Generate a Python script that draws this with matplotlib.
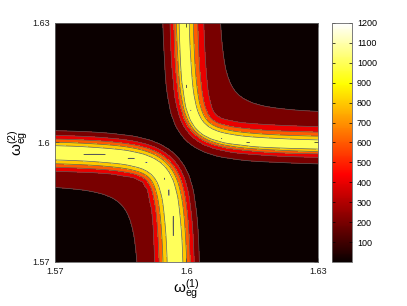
"""
Mapa de contorno: espectro 2D en funcion de w_eg(1) y w_eg(2)
"""

import numpy as np
import matplotlib
matplotlib.use('Agg')
import matplotlib.pyplot as plt
from matplotlib import colors

plt.rcParams['font.family'] = ['Liberation Sans', 'DejaVu Sans']

# ejes
w_min, w_max = 1.57, 1.63
n_grid = 61
ticks = [1.57, 1.6, 1.63]
tick_labels = ['1.57', '1.6', '1.63']

# niveles de contorno y barra de color
levels = [0, 200, 400, 600, 800, 1000, 1200]
cbar_ticks = [100, 200, 300, 400, 500, 600, 700, 800, 900, 1000, 1100, 1200]
vmax = 1200

# cresta hiperbolica
center = 1.59835      # asintotas
coupling = 2.55e-5    # (x-c)(y-c) = coupling
peak_low = 1202
peak_up = 1200.6
# rama inferior-izquierda: perfil gaussiano (ancho interior, exterior)
low_width = (0.0029, 0.0031)
# rama superior-derecha: perfil lorentziano (ancho interior, exterior)
up_width = (0.0020, 0.0034)
tail_height = 450     # cola del lado exterior
tail_width = 0.0074


def distancia_rama(W1, W2, signo):
    """Distancia de cada punto a una rama de la hiperbola"""
    t = np.geomspace(coupling / 0.06, 0.06, 3000)
    bx = center + signo * t
    by = center + signo * coupling / t
    px = W1.ravel()[:, None]
    py = W2.ravel()[:, None]
    d = np.sqrt((px - bx[None, :])**2 + (py - by[None, :])**2).min(axis=1)
    return d.reshape(W1.shape)


def campo():
    w = np.linspace(w_min, w_max, n_grid)
    W1, W2 = np.meshgrid(w, w)
    dx = W1 - center
    dy = W2 - center
    g = dx * dy - coupling
    exterior = g > 0
    # distancia aproximada g/|grad g| para la cola (esquinas redondeadas)
    d1 = g / np.hypot(dx, dy)
    tail = np.where(exterior, tail_height / (1 + (d1 / tail_width)**2), 0)

    ext_low = exterior & (dx + dy < 0)
    d_low = distancia_rama(W1, W2, -1)
    s_low = np.where(ext_low, low_width[1], low_width[0])
    f_low = peak_low * np.exp(-0.5 * (d_low / s_low)**2)
    f_low = np.where(ext_low, np.maximum(f_low, tail), f_low)

    ext_up = exterior & (dx + dy > 0)
    d_up = distancia_rama(W1, W2, 1)
    s_up = np.where(ext_up, up_width[1], up_width[0])
    f_up = peak_up / (1 + (d_up / s_up)**2)
    f_up = np.where(ext_up, np.maximum(f_up, tail), f_up)

    Z = np.maximum(f_low, f_up)
    return W1, W2, Z


def main():
    W1, W2, Z = campo()
    cmap = plt.get_cmap('hot')

    fig = plt.figure(figsize=(4.07, 3.06), dpi=100)
    ax = fig.add_axes([0.135, 0.144, 0.646, 0.781])

    # relleno estilo MATLAB: color del nivel inferior
    niveles_fill = levels + [max(Z.max(), vmax) + 100]
    colores = [cmap(l / vmax) for l in levels]
    ax.contourf(W1, W2, Z, levels=niveles_fill, colors=colores)
    ax.contour(W1, W2, Z, levels=levels[1:], colors='0.35', linewidths=0.5)

    ax.set_xlim(w_min, w_max)
    ax.set_ylim(w_min, w_max)
    ax.set_xticks(ticks)
    ax.set_xticklabels(tick_labels)
    ax.set_yticks(ticks)
    ax.set_yticklabels(tick_labels)
    ax.tick_params(direction='in', length=3, width=0.5, labelsize=6.5,
                   colors='0.1', top=True, right=True)
    for s in ax.spines.values():
        s.set_color('0.4')
        s.set_linewidth(0.6)

    ax.set_xlabel(r'$\mathregular{\omega_{eg}^{(1)}}$', fontsize=11, labelpad=1)
    ax.set_ylabel(r'$\mathregular{\omega_{eg}^{(2)}}$', fontsize=11, labelpad=2)

    # barra de color
    cax = fig.add_axes([0.816, 0.144, 0.049, 0.781])
    sm = plt.cm.ScalarMappable(norm=colors.Normalize(0, vmax), cmap=cmap)
    cb = fig.colorbar(sm, cax=cax, ticks=cbar_ticks)
    cax.tick_params(direction='in', length=2.5, width=0.5, labelsize=6.5,
                    left=True, right=True)
    cb.outline.set_edgecolor('0.4')
    cb.outline.set_linewidth(0.6)

    fig.savefig('out.png', dpi=100)
    plt.close()


if __name__ == "__main__":
    main()
